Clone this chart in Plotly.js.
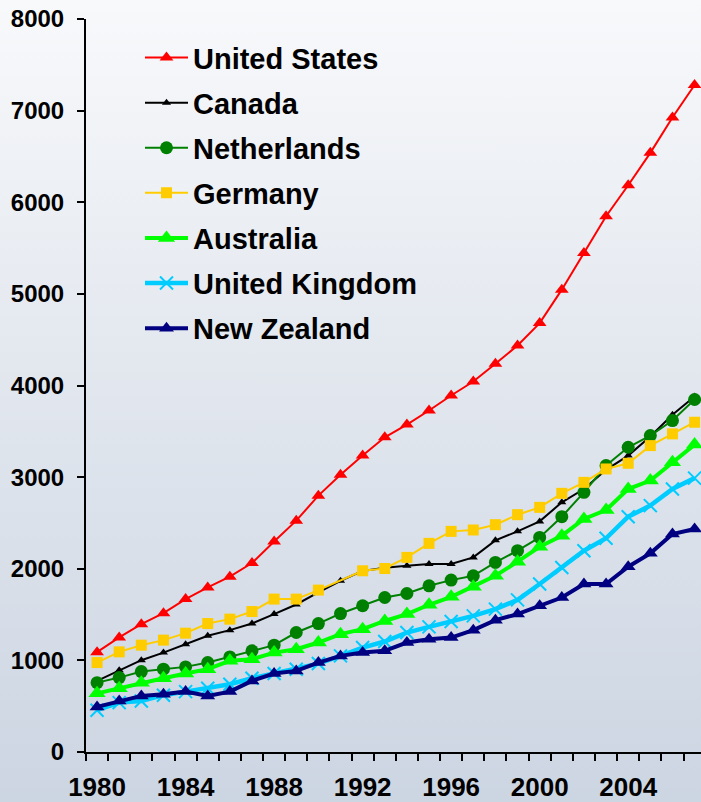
<!DOCTYPE html>
<html>
<head>
<meta charset="utf-8">
<script src="https://cdn.plot.ly/plotly-3.0.1.min.js"></script>
<style>
html, body { margin:0; padding:0; }
body { width:701px; height:802px; background: linear-gradient(to bottom, #f8f9fb 0%, #e3e8ef 45%, #ccd5e2 100%); overflow:hidden; }
#chart { width:701px; height:802px; }
</style>
</head>
<body>
<div id="chart"></div>
<script>
const years = [1980,1981,1982,1983,1984,1985,1986,1987,1988,1989,1990,1991,1992,1993,1994,1995,1996,1997,1998,1999,2000,2001,2002,2003,2004,2005,2006,2007];
const xTickLabels = ['1980','1984','1988','1992','1996','2000','2004'];
const xTickValues = [1980,1984,1988,1992,1996,2000,2004];

const unitedStates = [1090,1250,1395,1515,1669,1796,1913,2062,2298,2525,2798,3027,3235,3435,3574,3727,3891,4044,4237,4437,4681,5046,5446,5847,6186,6539,6925,7279];
const canada = [776,893,1002,1085,1177,1268,1330,1402,1505,1610,1741,1869,1976,2012,2033,2051,2051,2124,2310,2408,2517,2725,2870,3080,3235,3443,3680,3880];
const netherlands = [757,812,878,904,929,976,1038,1104,1166,1304,1402,1511,1596,1686,1730,1814,1876,1923,2069,2197,2342,2568,2834,3126,3326,3454,3617,3847];
const germany = [976,1093,1166,1221,1297,1402,1450,1533,1669,1669,1767,null,1978,2003,2124,2277,2408,2423,2481,2590,2670,2823,2943,3089,3151,3344,3472,3599];
const australia = [640,696,757,805,856,904,995,1013,1085,1122,1195,1286,1341,1430,1505,1607,1694,1803,1923,2077,2240,2361,2543,2641,2870,2962,3162,3355];
const unitedKingdom = [456,539,557,620,659,696,740,805,856,904,965,1049,1140,1206,1304,1366,1424,1486,1559,1660,1833,2014,2197,2333,2568,2689,2870,2989];
const newZealand = [492,557,612,630,659,612,659,776,856,885,976,1049,1085,1104,1195,1231,1249,1330,1439,1505,1596,1686,1833,1833,2022,2168,2379,2434];

const seriesNames = ['United States','Canada','Netherlands','Germany','Australia','United Kingdom','New Zealand'];
const seriesData = [unitedStates, canada, netherlands, germany, australia, unitedKingdom, newZealand];
const styles = [
  {color:'#ff0000', width:2, symbol:'triangle-up', size:12},
  {color:'#000000', width:2, symbol:'triangle-up', size:8},
  {color:'#008000', width:2, symbol:'circle', size:13},
  {color:'#ffcc00', width:2, symbol:'square', size:11},
  {color:'#00ff00', width:4, symbol:'triangle-up', size:15},
  {color:'#00ccff', width:4.5, symbol:'x-thin', size:13},
  {color:'#000080', width:4, symbol:'triangle-up', size:13}
];

const traces = seriesNames.map((name, i) => {
  const s = styles[i];
  const marker = {symbol:s.symbol, size:s.size, color:s.color};
  if (s.symbol === 'x-thin') marker.line = {color:s.color, width:2};
  else marker.line = {width:0};
  return {
    x: years, y: seriesData[i], name: name, type:'scatter', mode:'lines+markers',
    connectgaps: true, legendgroup: 'g'+i,
    line: {color:s.color, width:s.width},
    marker: marker
  };
});

const fontFam = '"Liberation Sans", Arial, sans-serif';
const layout = {
  width:701, height:802,
  paper_bgcolor:'rgba(0,0,0,0)', plot_bgcolor:'rgba(0,0,0,0)',
  margin:{l:86, r:0, t:19, b:50},
  showlegend:true,
  legend:{
    x:0.0878, y:0.982, xanchor:'left', yanchor:'top',
    bgcolor:'rgba(0,0,0,0)', borderwidth:0,
    font:{family:fontFam, size:29, color:'#000', weight:700},
    traceorder:'grouped', tracegroupgap:4.4, itemwidth:43
  },
  xaxis:{
    range:[1979.5, 2007.29], showgrid:false, zeroline:false,
    showline:true, linecolor:'#000', linewidth:2,
    tickvals:xTickValues, ticktext:xTickLabels, ticks:'',
    ticklabelstandoff:11,
    tickfont:{family:fontFam, size:26, color:'#000', weight:700},
    minor:{ticks:'outside', tick0:1979.5, dtick:1, ticklen:7, tickwidth:2, tickcolor:'#000', showgrid:false}
  },
  yaxis:{
    range:[0,8000], showgrid:false, zeroline:false,
    showline:true, linecolor:'#000', linewidth:2,
    ticks:'outside', ticklen:7, tickwidth:2, tickcolor:'#000',
    dtick:1000, tick0:0, ticklabelstandoff:8,
    tickfont:{family:fontFam, size:24, color:'#000', weight:700}
  }
};

Plotly.newPlot('chart', traces, layout, {displayModeBar:false, staticPlot:true});
</script>
</body>
</html>
